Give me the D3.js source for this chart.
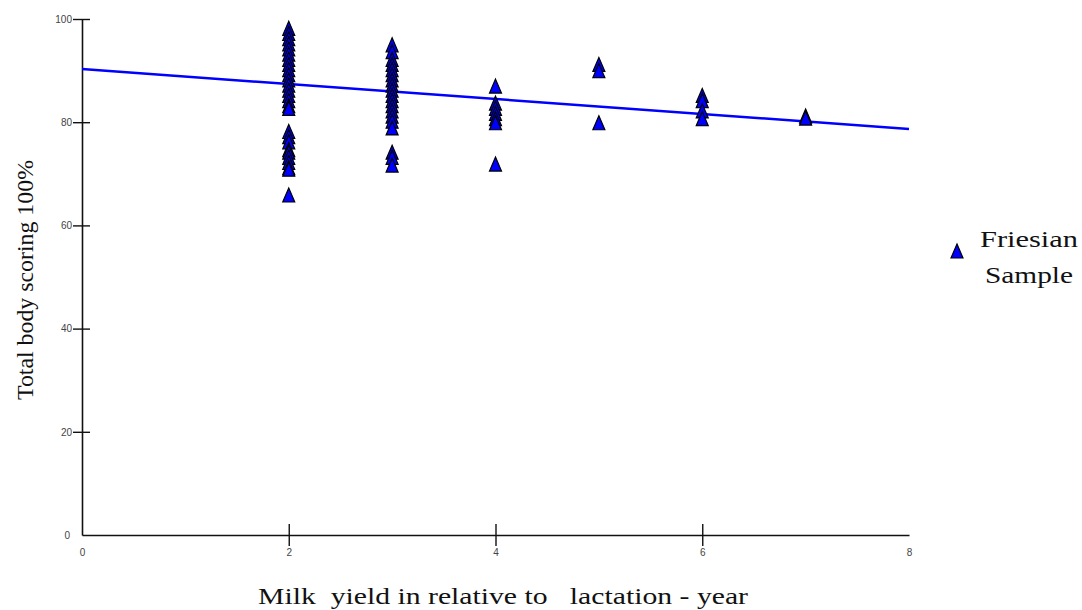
<!DOCTYPE html>
<html>
<head>
<meta charset="utf-8">
<script src="https://cdn.jsdelivr.net/npm/d3@7"></script>
<style>
  html, body { margin: 0; padding: 0; background: #fff; }
  svg { display: block; }
</style>
</head>
<body>
<svg id="chart" width="1082" height="610"></svg>
<script>
// Lactation year of each cow (x) and its total body score (y)
const lactationYear = [
  2,2,2,2,2,2,2,2,2,2,2,2,2,2,2,2,2,
  2,2,2,2,2,2,2,2,2,
  2,
  3,3,3,3,3,3,3,3,3,3,3,3,3,3,3,3,
  3,3,3,
  4,4,4,4,4,4,4,
  5,5,5,
  6,6,6,6,
  7,7
];
const bodyScore = [
  98,97,96,95,94,93,92,91,90,89,88,87,86,85,84,83,82.5,
  78,77,76,74.5,74,73,72,71,70.7,
  65.7,
  94.8,93.5,92,91,90,89,88,87,86,85,84,83,82,81,80,78.7,
  74,73,71.5,
  86.8,83.5,82.5,81.5,80.5,79.7,71.7,
  91,89.8,79.7,
  85,84,82,80.5,
  81,80.6
];

// Fitted line: score = intercept + slope * year
const fitIntercept = 90.3;
const fitSlope = -1.45;

const xTicks = [0, 2, 4, 6, 8];
const yTicks = [0, 20, 40, 60, 80, 100];
const xTitle = "Milk  yield in relative to   lactation - year";
const yTitle = "Total body scoring 100%";
const legendLines = ["Friesian", "Sample"];

const svg = d3.select("#chart");

const x = d3.scaleLinear().domain([0, 8]).range([82, 909]);
const y = d3.scaleLinear().domain([0, 100]).range([535, 19]);

const tickFont = "Liberation Sans, Arial, sans-serif";
const titleFont = "Liberation Serif, Times New Roman, serif";

// Y axis
const yAxis = svg.append("g")
  .attr("transform", `translate(${x(0)},0)`)
  .call(d3.axisLeft(y).tickValues(yTicks).tickSizeOuter(0).tickSizeInner(8).tickPadding(3));
yAxis.select(".domain").attr("stroke", "#111").attr("stroke-width", 1.6);
yAxis.selectAll(".tick line")
  .attr("x1", 8).attr("x2", -9)
  .attr("stroke", "#111").attr("stroke-width", 1.4)
  .attr("display", d => d === 0 ? "none" : null);
yAxis.selectAll(".tick text")
  .attr("x", d => d === 0 ? -12 : -10)
  .attr("font-family", tickFont).attr("font-size", 10).attr("fill", "#444");

// X axis
const xAxis = svg.append("g")
  .attr("transform", `translate(0,${y(0)})`)
  .call(d3.axisBottom(x).tickValues(xTicks).tickSizeOuter(0).tickSizeInner(11).tickPadding(4));
xAxis.select(".domain").attr("stroke", "#111").attr("stroke-width", 1.6);
xAxis.selectAll(".tick line")
  .attr("y1", -11).attr("y2", 11)
  .attr("stroke", "#111").attr("stroke-width", 1.4)
  .attr("display", d => (d === 0 || d === 8) ? "none" : null);
xAxis.selectAll(".tick text")
  .attr("y", 14)
  .attr("font-family", tickFont).attr("font-size", 10).attr("fill", "#444");

// Fitted line
const fitLine = d3.line().x(d => x(d)).y(d => y(fitIntercept + fitSlope * d));
svg.append("path")
  .datum([0, 8])
  .attr("d", fitLine)
  .attr("fill", "none")
  .attr("stroke", "#0000ff")
  .attr("stroke-width", 2.5);

// Triangle markers
const tri = "M0,-8L6,6L-6,6Z";
const points = lactationYear.map((v, i) => ({ year: v, score: bodyScore[i] }));
svg.append("g").selectAll("path")
  .data(points)
  .join("path")
  .attr("d", tri)
  .attr("transform", d => `translate(${x(d.year)},${y(d.score)})`)
  .attr("fill", "#0000ff")
  .attr("stroke", "#000")
  .attr("stroke-width", 1.2);

// Axis titles
svg.append("text")
  .attr("x", 258).attr("y", 604)
  .attr("font-family", titleFont).attr("font-size", 24)
  .attr("fill", "#111")
  .attr("xml:space", "preserve")
  .style("white-space", "pre")
  .attr("textLength", 490)
  .attr("lengthAdjust", "spacingAndGlyphs")
  .text(xTitle);

svg.append("text")
  .attr("transform", "translate(33,400) rotate(-90)")
  .attr("font-family", titleFont).attr("font-size", 23)
  .attr("fill", "#111")
  .attr("textLength", 240)
  .attr("lengthAdjust", "spacingAndGlyphs")
  .text(yTitle);

// Legend
svg.append("path")
  .attr("d", tri)
  .attr("transform", "translate(957,252)")
  .attr("fill", "#0000ff")
  .attr("stroke", "#000")
  .attr("stroke-width", 1.2);
svg.append("text")
  .attr("x", 980).attr("y", 247)
  .attr("font-family", titleFont).attr("font-size", 24)
  .attr("fill", "#111")
  .attr("textLength", 98)
  .attr("lengthAdjust", "spacingAndGlyphs")
  .text(legendLines[0]);
svg.append("text")
  .attr("x", 985).attr("y", 283)
  .attr("font-family", titleFont).attr("font-size", 24)
  .attr("fill", "#111")
  .attr("textLength", 88)
  .attr("lengthAdjust", "spacingAndGlyphs")
  .text(legendLines[1]);
</script>
</body>
</html>
